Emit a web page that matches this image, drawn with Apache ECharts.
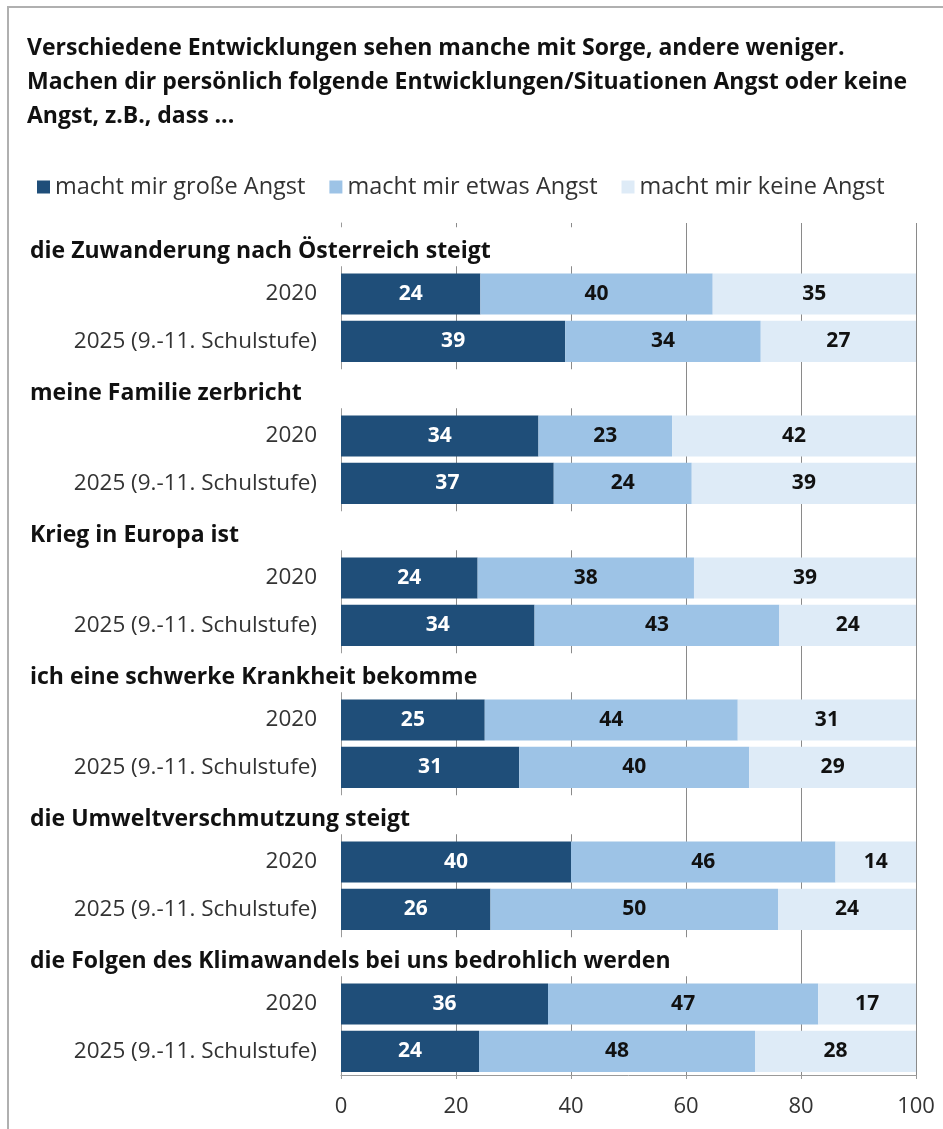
<!DOCTYPE html>
<html>
<head>
<meta charset="utf-8">
<script src="https://cdn.jsdelivr.net/npm/echarts@6/dist/echarts.min.js"></script>
<style>
html, body { margin: 0; padding: 0; background: #fff; }
#chart { width: 943px; height: 1129px; }
</style>
</head>
<body>
<div id="chart"></div>
<script>
var FONT = 'Open Sans';
var titleText = 'Verschiedene Entwicklungen sehen manche mit Sorge, andere weniger.\nMachen dir persönlich folgende Entwicklungen/Situationen Angst oder keine\nAngst, z.B., dass ...';
var seriesNames = ['macht mir große Angst', 'macht mir etwas Angst', 'macht mir keine Angst'];
var headings = [
    'die Zuwanderung nach Österreich steigt',
    'meine Familie zerbricht',
    'Krieg in Europa ist',
    'ich eine schwerke Krankheit bekomme',
    'die Umweltverschmutzung steigt',
    'die Folgen des Klimawandels bei uns bedrohlich werden'
];
var years = ['2020', '2025 (9.-11. Schulstufe)'];
// je Thema: 2020, 2025
var grosse = [24, 39, 34, 37, 24, 34, 25, 31, 40, 26, 36, 24];
var etwas  = [40, 34, 23, 24, 38, 43, 44, 40, 46, 50, 47, 48];
var keine  = [35, 27, 42, 39, 39, 24, 31, 29, 14, 24, 17, 28];

// Zeilen: Überschrift + 2 Balken je Thema (100%-gestapelt wie in Excel)
var rowLabels = [], isHead = [], headIdx = [];
var d1 = [], d2 = [], d3 = [];
for (var i = 0; i < headings.length; i++) {
    rowLabels.push(headings[i]); isHead.push(true); headIdx.push(i);
    d1.push('-'); d2.push('-'); d3.push('-');
    for (var j = 0; j < years.length; j++) {
        var k = i * 2 + j;
        var sum = grosse[k] + etwas[k] + keine[k];
        rowLabels.push(years[j]); isHead.push(false); headIdx.push(-1);
        d1.push({ value: grosse[k] / sum * 100, raw: grosse[k] });
        d2.push({ value: etwas[k] / sum * 100, raw: etwas[k] });
        d3.push({ value: keine[k] / sum * 100, raw: keine[k] });
    }
}
var rowKeys = rowLabels.map(function (l, i) { return 'r' + i; });

var HEAD_SIZE = 23;
var ctx = document.createElement('canvas').getContext('2d');
ctx.font = 'bold ' + HEAD_SIZE + 'px "' + FONT + '"';
var headRich = {};
headings.forEach(function (t, i) {
    headRich['h' + i] = {
        fontFamily: FONT,
        fontWeight: 'bold',
        fontSize: HEAD_SIZE,
        color: '#111',
        backgroundColor: '#fff',
        height: 30,
        width: Math.max(615, Math.ceil(ctx.measureText(t).width) + 30),
        padding: [9, 0, 0, 0]
    };
});

var myChart = echarts.init(document.getElementById('chart'));
var colors = ['#1f4e79', '#9dc3e6', '#deebf7'];
var labelColors = ['#ffffff', '#111111', '#111111'];
var dataSets = [d1, d2, d3];
var series = [];
for (var s = 0; s < 3; s++) {
    series.push({
        name: seriesNames[s],
        type: 'bar',
        stack: 'all',
        data: dataSets[s],
        barCategoryGap: '13%',
        itemStyle: { color: colors[s] },
        label: {
            show: true,
            position: 'inside',
            fontFamily: FONT,
            fontWeight: 'bold',
            fontSize: 21,
            color: labelColors[s],
            formatter: function (p) { return p.data.raw; }
        }
    });
}

myChart.setOption({
    animation: false,
    backgroundColor: '#fff',
    textStyle: { fontFamily: FONT },
    graphic: [{
        type: 'rect',
        shape: { x: 8, y: 7, width: 1000, height: 1200 },
        style: { fill: 'none', stroke: '#b0b0b0', lineWidth: 2 },
        silent: true
    }],
    title: {
        text: titleText,
        left: 22,
        top: 26,
        textStyle: {
            fontFamily: FONT,
            fontWeight: 'bold',
            fontSize: 23,
            lineHeight: 34,
            color: '#111'
        }
    },
    legend: {
        left: 32,
        top: 170,
        itemWidth: 13,
        itemHeight: 13,
        itemGap: 24,
        icon: 'rect',
        textStyle: { fontFamily: FONT, fontSize: 23.5, color: '#333' },
        data: seriesNames
    },
    grid: { left: 341, right: 27, top: 223, bottom: 54 },
    xAxis: {
        type: 'value',
        min: 0,
        max: 100,
        interval: 20,
        axisLine: { show: true, lineStyle: { color: '#9a9a9a' } },
        axisTick: { show: true, length: 4, lineStyle: { color: '#9a9a9a' } },
        splitLine: { show: true, lineStyle: { color: '#8a8a8a', width: 1 } },
        axisLabel: { fontFamily: FONT, fontSize: 22, color: '#333', margin: 21 }
    },
    yAxis: [{
        type: 'category',
        inverse: true,
        data: rowKeys,
        axisLine: { show: true, lineStyle: { color: '#9a9a9a' } },
        axisTick: { show: false },
        axisLabel: {
            margin: 24,
            fontFamily: FONT,
            fontSize: 22.5,
            color: '#333',
            formatter: function (v, i) { return isHead[i] ? '' : rowLabels[i]; }
        }
    }, {
        type: 'category',
        inverse: true,
        position: 'left',
        z: 3,
        data: rowKeys,
        axisLine: { show: false },
        axisTick: { show: false },
        axisLabel: {
            margin: 311,
            align: 'left',
            formatter: function (v, i) {
                return isHead[i] ? '{h' + headIdx[i] + '|' + rowLabels[i] + '}' : '';
            },
            rich: headRich
        }
    }],
    series: series
});
</script>
</body>
</html>
